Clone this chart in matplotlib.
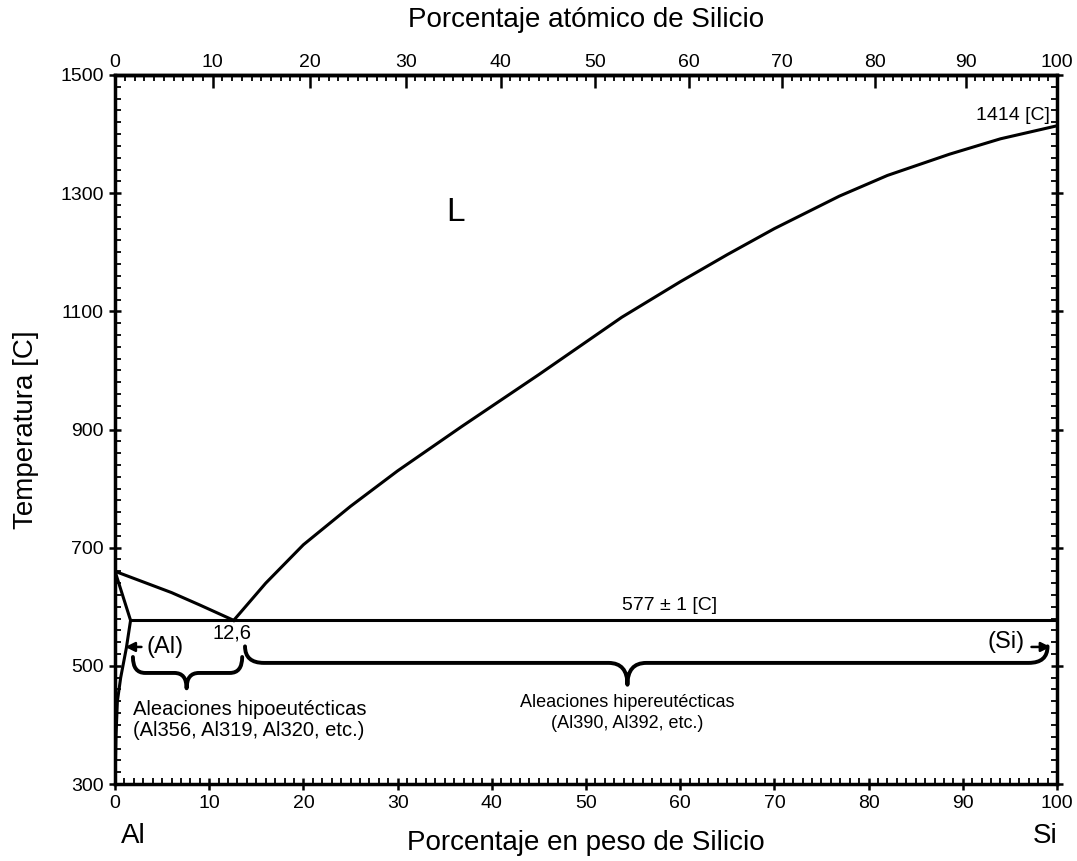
import numpy as np
import matplotlib.pyplot as plt
from matplotlib.path import Path
from matplotlib.patches import PathPatch
from matplotlib.ticker import MultipleLocator

plt.rcParams['font.family'] = ['Liberation Sans', 'DejaVu Sans']

M_AL = 26.9815
M_SI = 28.0855

# liquidus, Al side (wt% Si, T in C)
liq_al_x = [0, 3, 6, 9, 12.6]
liq_al_t = [660, 642, 624, 603, 577]

# liquidus, Si side
liq_si_x = [12.6, 16, 20, 25, 30, 36.8, 45, 53.8, 60, 65, 70, 76.9, 82, 88.6, 94, 100]
liq_si_t = [577, 640, 705, 770, 830, 905, 993, 1090, 1150, 1196, 1240, 1295, 1330, 1366, 1392, 1414]

# solidus and solvus of (Al)
sol_x = [0, 1.65]
sol_t = [660, 577]
solv_x = [1.65, 1.2, 0.6, 0.25, 0.1, 0.0]
solv_t = [577, 530, 480, 440, 380, 300]

# eutectic isotherm
eut_x = [1.65, 100]
eut_t = [577, 577]

x_ticks = list(range(0, 101, 10))
y_ticks = list(range(300, 1501, 200))


def at_to_wt(a):
    a = np.asarray(a, dtype=float)
    return 100 * a * M_SI / (a * M_SI + (100 - a) * M_AL)


def wt_to_at(w):
    w = np.asarray(w, dtype=float)
    return 100 * (w / M_SI) / (w / M_SI + (100 - w) / M_AL)


fig = plt.figure(figsize=(10.77, 8.61), dpi=100)
ax = fig.add_axes([0.1068, 0.0894, 0.8746, 0.8235])

lw = 2.2
ax.plot(liq_al_x, liq_al_t, color='black', lw=lw)
ax.plot(liq_si_x, liq_si_t, color='black', lw=lw)
ax.plot(sol_x, sol_t, color='black', lw=lw)
ax.plot(solv_x, solv_t, color='black', lw=lw)
ax.plot(eut_x, eut_t, color='black', lw=lw)

ax.set_xlim(0, 100)
ax.set_ylim(300, 1500)
ax.set_xticks(x_ticks)
ax.set_yticks(y_ticks)
ax.xaxis.set_minor_locator(MultipleLocator(1))
ax.yaxis.set_minor_locator(MultipleLocator(20))
ax.tick_params(which='major', direction='inout', length=9, width=1.8, labelsize=14)
ax.tick_params(which='minor', direction='in', length=4, width=1.3)
ax.tick_params(axis='y', which='both', right=True)
for s in ax.spines.values():
    s.set_linewidth(2.5)

top = ax.secondary_xaxis('top', functions=(wt_to_at, at_to_wt))
top.set_xticks(x_ticks)
top.xaxis.set_minor_locator(MultipleLocator(1))
top.tick_params(which='major', direction='in', length=9, width=1.8, labelsize=14, pad=3)
top.tick_params(which='minor', direction='in', length=4, width=1.3)
top.spines['top'].set_linewidth(2.5)

# axis titles
fig.text(586 / 1077, 1 - 20 / 861, 'Porcentaje atómico de Silicio', fontsize=20,
         ha='center', va='center')
fig.text(586 / 1077, 1 - 843 / 861, 'Porcentaje en peso de Silicio', fontsize=20,
         ha='center', va='center')
fig.text(26 / 1077, 1 - 430 / 861, 'Temperatura [C]', fontsize=20,
         ha='center', va='center', rotation=90)
fig.text(133 / 1077, 1 - 836 / 861, 'Al', fontsize=20, ha='center', va='center')
fig.text(1045 / 1077, 1 - 836 / 861, 'Si', fontsize=20, ha='center', va='center')

# labels
ax.text(36.1, 1268, 'L', fontsize=24, ha='center', va='center')
ax.text(99.3, 1432, '1414 [C]', fontsize=14, ha='right', va='center')
ax.text(58.9, 602, '577 ± 1 [C]', fontsize=14, ha='center', va='center')
ax.text(12.4, 555, '12,6', fontsize=14.5, ha='center', va='center')
ax.text(3.3, 532, '(Al)', fontsize=17, ha='left', va='center')
ax.text(96.6, 541, '(Si)', fontsize=17, ha='right', va='center')
ax.text(1.9, 408, 'Aleaciones hipoeutécticas\n(Al356, Al319, Al320, etc.)',
        fontsize=14.5, ha='left', va='center', linespacing=1.15)
ax.text(54.4, 420, 'Aleaciones hipereutécticas\n(Al390, Al392, etc.)',
        fontsize=13, ha='center', va='center', linespacing=1.3)

# small arrows pointing to the terminal solid solutions
ax.annotate('', xy=(0.8, 532), xytext=(3.1, 532),
            arrowprops=dict(arrowstyle='-|>', color='black', lw=1.8, mutation_scale=14))
ax.annotate('', xy=(99.6, 532), xytext=(97.0, 532),
            arrowprops=dict(arrowstyle='-|>', color='black', lw=1.8, mutation_scale=14))


def brace(x0, x1, xm, y_top, y_mid, y_tip, dx):
    verts = [(x0, y_top),
             (x0, y_mid), (x0 + dx, y_mid),
             (xm - dx, y_mid),
             (xm, y_mid), (xm, y_tip),
             (xm, y_mid), (xm + dx, y_mid),
             (x1 - dx, y_mid),
             (x1, y_mid), (x1, y_top)]
    codes = [Path.MOVETO,
             Path.CURVE3, Path.CURVE3,
             Path.LINETO,
             Path.CURVE3, Path.CURVE3,
             Path.CURVE3, Path.CURVE3,
             Path.LINETO,
             Path.CURVE3, Path.CURVE3]
    return PathPatch(Path(verts, codes), fill=False, lw=2.8, color='black',
                     capstyle='round', joinstyle='round')


ax.add_patch(brace(1.9, 13.5, 7.6, 515, 488, 462, 1.3))
ax.add_patch(brace(13.8, 99.0, 54.4, 533, 505, 468, 2.0))

fig.savefig('out.png', dpi=100)
